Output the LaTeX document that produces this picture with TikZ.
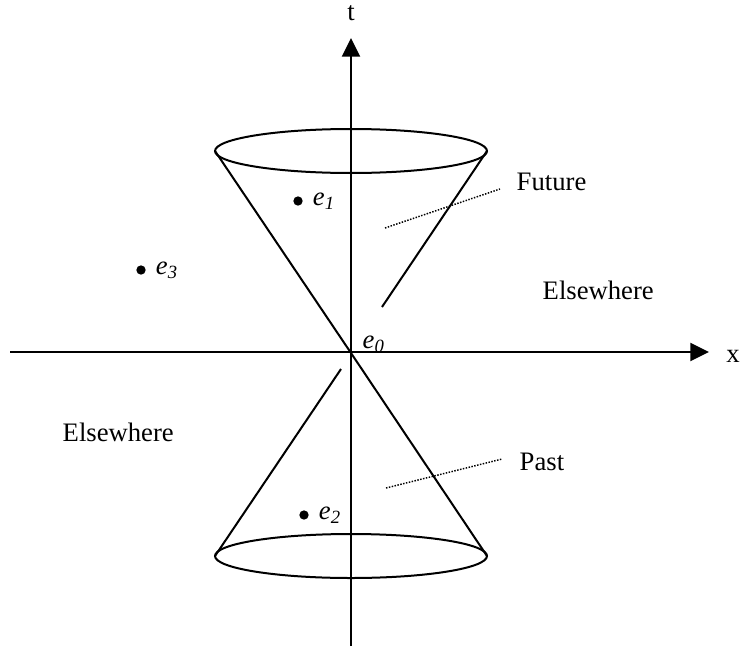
\documentclass[tikz,border=0pt]{standalone}
\usepackage{fontspec}
\setmainfont{Liberation Serif}
\usetikzlibrary{arrows.meta}

\begin{document}
\begin{tikzpicture}[x=0.75pt,y=-0.75pt,font=\fontsize{20}{23}\selectfont]
\useasboundingbox (0,0) rectangle (742,646);
\tikzset{axis/.style={line width=1.5pt,-{Triangle[length=14pt,width=13.5pt]}},
  cone/.style={line width=1.5pt},
  pointer/.style={line width=1.1pt,dash pattern=on 1.1pt off 1.1pt},
  event/.style={circle,fill,inner sep=0pt,minimum size=7pt}}
% axes
\coordinate (tbot) at (351,646); \coordinate (ttop) at (351,38);
\coordinate (xleft) at (10,352); \coordinate (xright) at (709,352);
\draw[axis] (tbot) -- (ttop);
\draw[axis] (xleft) -- (xright);
\node[anchor=base,inner sep=0pt] (tlab) at (351,20) {t};
\node[anchor=base,inner sep=0pt] (xlab) at (733,362) {x};
% light cone
\coordinate (apex) at (351,353);
\draw[cone] (351,151) ellipse (136 and 22);
\draw[cone] (351,556) ellipse (136 and 22);
\draw[cone] (215,151) -- (apex) -- (487,556);
\draw[cone] (487,151) -- (382,307);
\draw[cone] (215,556) -- (341,369);
% regions
\node[anchor=west] (future) at (512,182) {Future};
\node[anchor=west] (past) at (515,462) {Past};
\node[anchor=west] (else1) at (538,290) {Elsewhere};
\node[anchor=west] (else2) at (58,432) {Elsewhere};
\coordinate (fin) at (385,228); \coordinate (pin) at (386,488);
\draw[pointer] (fin) -- (500,189);
\draw[pointer] (pin) -- (502,459);
% events
\foreach \n/\p/\s in {e1/{(298,201)}/1,e2/{(304,515)}/2,e3/{(141,270)}/3}
  {\node[event] (\n) at \p {};
   \node[anchor=west,xshift=4pt] at (\n.east) {\itshape e\textsubscript{\s}};}
\node[anchor=west] (e0) at (358,344) {\itshape e\textsubscript{0}};
\end{tikzpicture}
\end{document}
